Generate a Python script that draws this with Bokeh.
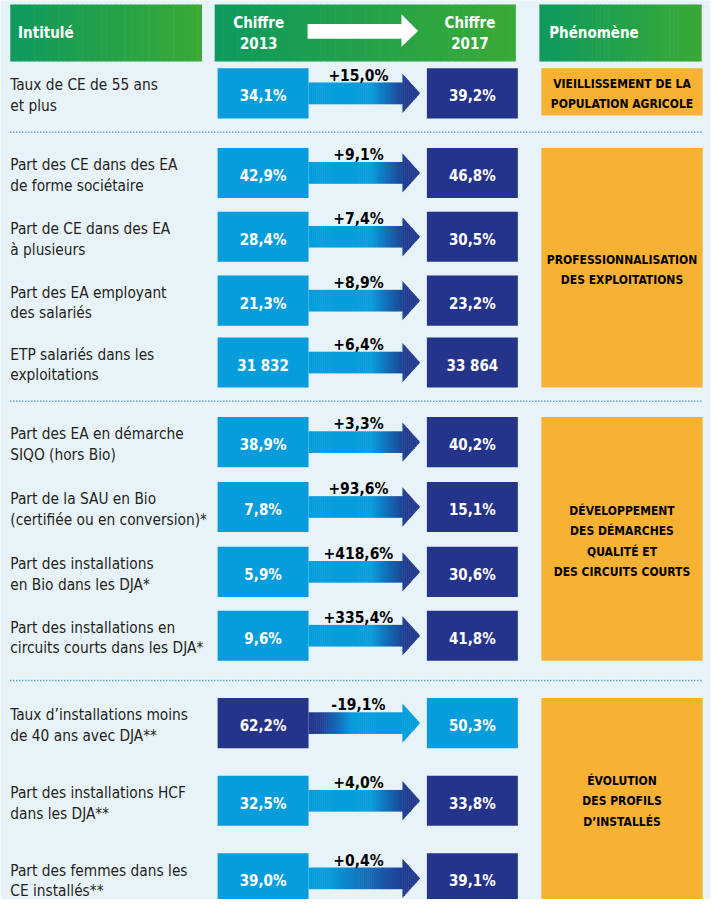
from bokeh.plotting import figure
from bokeh.models import Range1d
from bokeh.embed import file_html
from bokeh.resources import INLINE
from bokeh.core.properties import value

# ---------------- data ----------------
label_line1 = [
    "Taux de CE de 55 ans",
    "Part des CE dans des EA",
    "Part de CE dans des EA",
    "Part des EA employant",
    "ETP salariés dans les",
    "Part des EA en démarche",
    "Part de la SAU en Bio",
    "Part des installations",
    "Part des installations en",
    "Taux d’installations moins",
    "Part des installations HCF",
    "Part des femmes dans les",
]
label_line2 = [
    "et plus",
    "de forme sociétaire",
    "à plusieurs",
    "des salariés",
    "exploitations",
    "SIQO (hors Bio)",
    "(certifiée ou en conversion)*",
    "en Bio dans les DJA*",
    "circuits courts dans les DJA*",
    "de 40 ans avec DJA**",
    "dans les DJA**",
    "CE installés**",
]
value_2013 = [34.1, 42.9, 28.4, 21.3, 31832, 38.9, 7.8, 5.9, 9.6, 62.2, 32.5, 39.0]
value_2017 = [39.2, 46.8, 30.5, 23.2, 33864, 40.2, 15.1, 30.6, 41.8, 50.3, 33.8, 39.1]
is_percent = [True, True, True, True, False, True, True, True, True, True, True, True]
change_pct = [15.0, 9.1, 7.4, 8.9, 6.4, 3.3, 93.6, 418.6, 335.4, -19.1, 4.0, 0.4]

phenomena = [
    ["VIEILLISSEMENT DE LA", "POPULATION AGRICOLE"],
    ["PROFESSIONNALISATION", "DES EXPLOITATIONS"],
    ["DÉVELOPPEMENT", "DES DÉMARCHES", "QUALITÉ ET", "DES CIRCUITS COURTS"],
    ["ÉVOLUTION", "DES PROFILS", "D’INSTALLÉS"],
]
phenomenon_rows = [[0], [1, 2, 3, 4], [5, 6, 7, 8], [9, 10, 11]]

# ---------------- layout / style ----------------
ROW_TOP = [69, 150, 215, 280, 343, 424, 490, 556, 621, 710, 789, 868]
BOX_H = 51
SEPARATORS = [134, 408, 692]
FONT = "DejaVu Sans Condensed"
BG = "#e8f3f9"
LIGHT = "#079ddd"
DARK = "#25348b"
ARROW_DARK = "#213a8e"
ORANGE = "#f7b234"
TXT = "#231f20"
G_LEFT = "#0e9a5d"
G_RIGHT = "#3aaa36"


def fmt_val(v, pct):
    if pct:
        return f"{v:.1f}".replace(".", ",") + "%"
    return f"{int(v):,}".replace(",", " ")


def fmt_chg(c):
    return f"{c:+.1f}".replace(".", ",") + "%"


def rgb(h):
    return tuple(int(h[i:i + 2], 16) for i in (1, 3, 5))


def mix(c1, c2, t):
    t = max(0.0, min(1.0, t))
    a, b = rgb(c1), rgb(c2)
    return "#%02x%02x%02x" % tuple(round(a[i] + (b[i] - a[i]) * t) for i in range(3))


p = figure(width=710, height=899, output_backend="svg", toolbar_location=None,
           x_range=Range1d(0, 726), y_range=Range1d(915, 0), min_border=0)
p.axis.visible = False
p.grid.visible = False
p.outline_line_color = None
p.background_fill_color = BG
p.border_fill_color = BG

# header boxes with gradient strips
header_boxes = [(10, 206), (219, 527), (551, 717)]
for (x0, x1) in header_boxes:
    n = 40
    w = (x1 - x0) / n
    lefts = [x0 + i * w for i in range(n)]
    rights = [min(x1, l + w + 0.6) for l in lefts]
    cols = [mix(G_LEFT, G_RIGHT, (i + 0.5) / n) for i in range(n)]
    p.quad(left=lefts, right=rights, top=[4] * n, bottom=[62] * n,
           fill_color=cols, line_color=None)

# white header arrow
p.patch(x=[314, 410, 410, 427, 410, 410, 314], y=[24, 24, 14, 31, 47, 39, 39],
        fill_color="white", line_color=None)

hfont = value(FONT)
p.text(x=[18], y=[33], text=["Intitulé"], text_font=hfont, text_font_style="bold",
       text_font_size="15px", text_color="white", text_baseline="middle", text_align="left")
p.text(x=[561], y=[33], text=["Phénomène"], text_font=hfont, text_font_style="bold",
       text_font_size="15px", text_color="white", text_baseline="middle", text_align="left")
for cx, yr in [(264, "2013"), (480, "2017")]:
    p.text(x=[cx, cx], y=[23, 43], text=["Chiffre", yr], text_font=hfont, text_font_style="bold",
           text_font_size="15px", text_color="white", text_baseline="middle", text_align="center")

# separators
for sy in SEPARATORS:
    p.line(x=[10, 718], y=[sy, sy], line_color="#2a86c6", line_width=1.5, line_dash="1 2")

# rows
for i in range(12):
    top = ROW_TOP[i]
    c = top + BOX_H / 2
    up = change_pct[i] >= 0
    col13 = LIGHT if up else DARK
    col17 = DARK if up else LIGHT
    xs, ys, cols = [], [], []
    if up:
        g0, g1 = (335, 415) if i == 11 else (378, 415)
        c_from, c_to = LIGHT, ARROW_DARK
    else:
        g0, g1 = 327, 360
        c_from, c_to = ARROW_DARK, LIGHT
    step = 2
    x = 315
    while x < 411:
        xa, xb = x, x + step
        xs.append([xa, xb + 0.5, xb + 0.5, xa])
        ys.append([c - 11, c - 11, c + 11, c + 11])
        cols.append(mix(c_from, c_to, ((xa + xb) / 2 - g0) / (g1 - g0)))
        x += step
    hx0, tip, hh = 411, 429, 20
    x = hx0
    while x < tip:
        xa, xb = x, min(tip, x + step)
        ha = hh * (tip - xa) / (tip - hx0)
        xe = min(tip, xb + 0.5)
        he = hh * (tip - xe) / (tip - hx0)
        xs.append([xa, xe, xe, xa])
        ys.append([c - ha, c - he, c + he, c + ha])
        cols.append(mix(c_from, c_to, ((xa + xb) / 2 - g0) / (g1 - g0)))
        x += step
    p.patches(xs=xs, ys=ys, fill_color=cols, line_color=None)

    p.quad(left=[222], right=[315], top=[top], bottom=[top + BOX_H], fill_color=col13, line_color=None)
    p.quad(left=[436], right=[529], top=[top], bottom=[top + BOX_H], fill_color=col17, line_color=None)

    p.text(x=[268.5, 482.5], y=[c + 3, c + 3],
           text=[fmt_val(value_2013[i], is_percent[i]), fmt_val(value_2017[i], is_percent[i])],
           text_font=hfont, text_font_style="bold", text_font_size="15px", text_color="white",
           text_baseline="middle", text_align="center")
    p.text(x=[366], y=[c - 18], text=[fmt_chg(change_pct[i])], text_font=hfont,
           text_font_style="bold", text_font_size="15.5px", text_color="black",
           text_baseline="middle", text_align="center")
    p.text(x=[10, 10], y=[c - 8, c + 13], text=[label_line1[i], label_line2[i]], text_font=hfont,
           text_font_size="15.3px", text_color=TXT, text_baseline="middle", text_align="left")

# phenomena
for lines, rows in zip(phenomena, phenomenon_rows):
    top = ROW_TOP[rows[0]]
    bottom = ROW_TOP[rows[-1]] + BOX_H
    if rows[-1] == 11:
        bottom = 920
    if len(rows) == 1:
        bottom = ROW_TOP[rows[0]] + 48
    p.quad(left=[553], right=[718], top=[top], bottom=[bottom], fill_color=ORANGE, line_color=None)
    mid = (top + min(bottom, 915)) / 2 + 2.5
    n = len(lines)
    yy = [mid + (k - (n - 1) / 2) * 20.7 for k in range(n)]
    p.text(x=[635.5] * n, y=yy, text=lines, text_font=hfont, text_font_style="bold",
           text_font_size="12px", text_color="black", text_baseline="middle", text_align="center")

open("out.html", "w").write(file_html(p, INLINE))
